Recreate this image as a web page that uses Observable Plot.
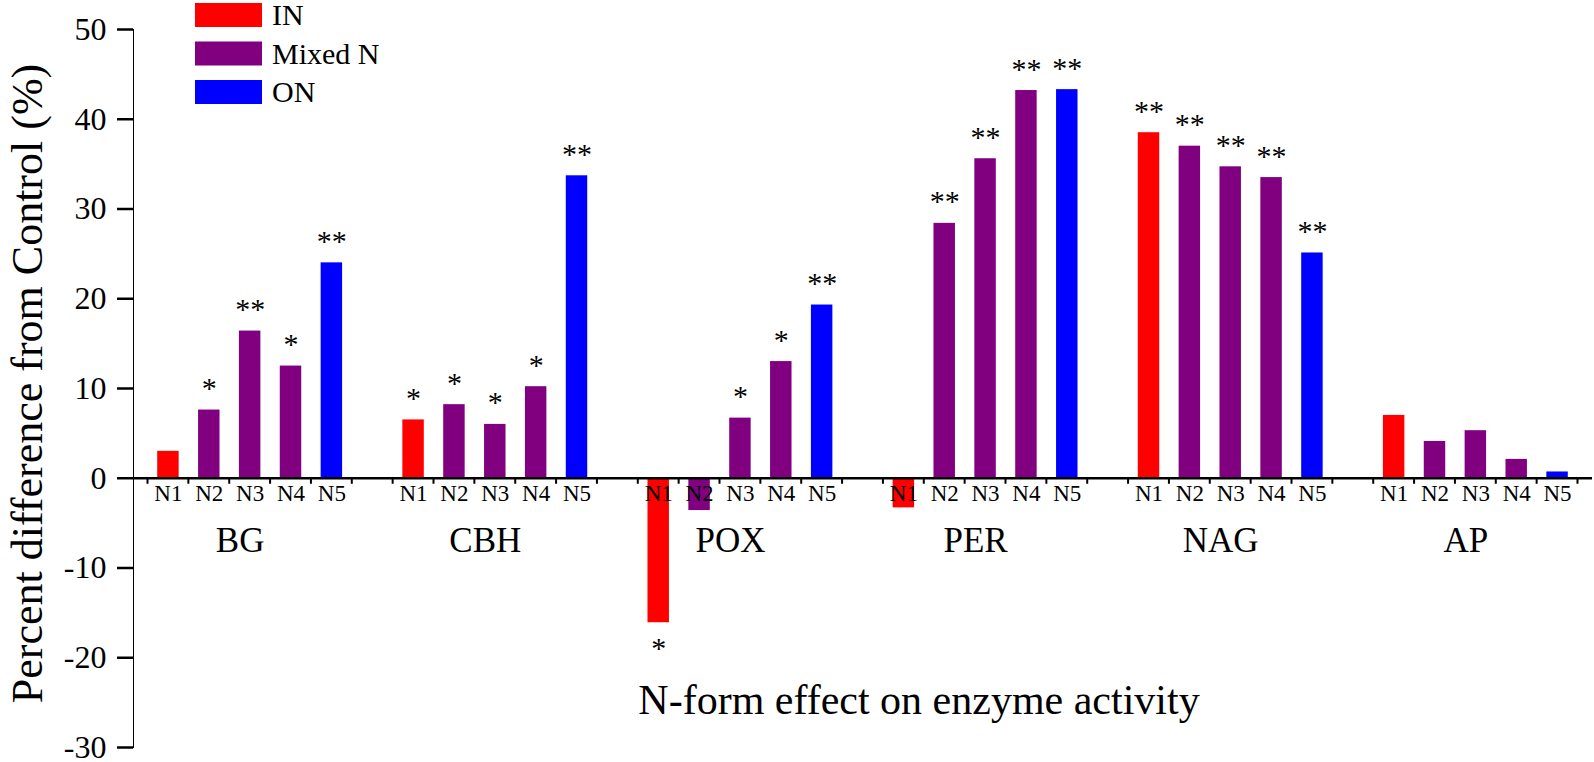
<!DOCTYPE html>
<html>
<head>
<meta charset="utf-8">
<script src="https://cdn.jsdelivr.net/npm/d3@7"></script>
<script src="https://cdn.jsdelivr.net/npm/@observablehq/plot@0.6"></script>
<style>
  html, body { margin: 0; padding: 0; background: #fff; }
  #chart svg { display: block; }
  #chart g[aria-label^="y-axis"] line,
  #chart g[aria-label^="y-axis"] path { stroke-width: 2.5px; }
</style>
</head>
<body>
<div id="chart"></div>
<script>
// ---- data ----
const enzymes = ["BG", "CBH", "POX", "PER", "NAG", "AP"];
const treatments = ["N1", "N2", "N3", "N4", "N5"];
const treatmentForm = ["IN", "Mixed N", "Mixed N", "Mixed N", "ON"];
const legendLabels = ["IN", "Mixed N", "ON"];
const legendColors = ["#ff0000", "#800080", "#0000ff"];
const yTicks = [-30, -20, -10, 0, 10, 20, 30, 40, 50];

const valBG  = [3.0, 7.6, 16.4, 12.5, 24.0];
const valCBH = [6.5, 8.2, 6.0, 10.2, 33.7];
const valPOX = [-16.1, -3.6, 6.7, 13.0, 19.3];
const valPER = [-3.3, 28.4, 35.6, 43.2, 43.3];
const valNAG = [38.5, 37.0, 34.7, 33.5, 25.1];
const valAP  = [7.0, 4.1, 5.3, 2.1, 0.7];

const sigBG  = ["", "*", "**", "*", "**"];
const sigCBH = ["*", "*", "*", "*", "**"];
const sigPOX = ["*", "", "*", "*", "**"];
const sigPER = ["", "**", "**", "**", "**"];
const sigNAG = ["**", "**", "**", "**", "**"];
const sigAP  = ["", "", "", "", ""];

const yTitle = "Percent difference from Control (%)";
const xTitle = "N-form effect on enzyme activity";

// ---- table ----
const allVals = [valBG, valCBH, valPOX, valPER, valNAG, valAP];
const allSig = [sigBG, sigCBH, sigPOX, sigPER, sigNAG, sigAP];
const perGroup = treatments.length + 1; // one empty slot between groups
const nSlots = enzymes.length * perGroup - 1;
const data = enzymes.flatMap((e, g) => treatments.map((t, k) => ({
  enzyme: e, treatment: t, form: treatmentForm[k],
  value: allVals[g][k], sig: allSig[g][k], pos: g * perGroup + k
})));
const groups = enzymes.map((e, g) => ({enzyme: e, pos: g * perGroup + (treatments.length - 1) / 2}));
const slotEdges = d3.range(nSlots + 1).map(i => i - 0.5);
const outerPad = 0.355;

const serif = "'Liberation Serif', 'Times New Roman', serif";

function xTickMark(index, scales) {
  const x = scales.x, y = scales.y;
  const g = d3.create("svg:g").attr("stroke", "black").attr("stroke-width", 2);
  const y0 = y(0);
  for (const t of slotEdges) {
    const px = x(t);
    g.append("line").attr("x1", px).attr("x2", px).attr("y1", y0).attr("y2", y0 + 6);
  }
  return g.node();
}

function legendMark() {
  const g = d3.create("svg:g");
  legendLabels.forEach((lab, i) => {
    const top = 3 + i * 38.5;
    g.append("rect").attr("x", 195).attr("y", top).attr("width", 67).attr("height", 24)
      .attr("fill", legendColors[i]);
    g.append("text").attr("x", 272).attr("y", top + 12).attr("dy", "0.34em")
      .attr("text-anchor", "start")
      .attr("font-size", 30).attr("font-family", serif).attr("fill", "black").text(lab);
  });
  return g.node();
}

const chart = Plot.plot({
  width: 1594,
  height: 762,
  marginTop: 29,
  marginBottom: 15,
  marginLeft: 133,
  marginRight: 2,
  style: {fontFamily: serif, fontSize: "32px", background: "white", color: "black", overflow: "visible"},
  x: {domain: [-0.5 - outerPad, nSlots - 0.5 + outerPad], axis: null},
  y: {domain: [-30, 50], ticks: yTicks, tickSize: 16, tickPadding: 11, line: true, label: null,
      tickFormat: d => String(d)},
  color: {domain: legendLabels, range: legendColors},
  marks: [
    Plot.rectY(data, {x1: d => d.pos - 0.5, x2: d => d.pos + 0.5, y1: 0, y2: "value",
      fill: "form", insetLeft: 9.7, insetRight: 9.7}),
    Plot.ruleY([0], {strokeWidth: 2.5, stroke: "black"}),
    xTickMark,
    Plot.text(data, {x: "pos", y: 0, text: "treatment", dy: 22.5, lineAnchor: "bottom",
      fontSize: 23, fill: "black"}),
    Plot.text(groups, {x: "pos", y: 0, text: "enzyme", dy: 74, dx: -10, lineAnchor: "bottom",
      fontSize: 35, fill: "black"}),
    Plot.text(data.filter(d => d.sig && d.value >= 0), {x: "pos", y: "value", text: "sig",
      dy: -12, lineAnchor: "bottom", fontSize: 30, fill: "black"}),
    Plot.text(data.filter(d => d.sig && d.value < 0), {x: "pos", y: "value", text: "sig",
      dy: 35, lineAnchor: "bottom", fontSize: 30, fill: "black"}),
    Plot.text([xTitle], {frameAnchor: "bottom", text: d => d, dx: 56, dy: -34,
      lineAnchor: "bottom", textAnchor: "middle", fontSize: 42, fill: "black"}),
    Plot.text([yTitle], {frameAnchor: "left", text: d => d, rotate: -90, dx: -92, dy: -5,
      lineAnchor: "bottom", textAnchor: "middle", fontSize: 44, fill: "black"}),
    legendMark
  ]
});
document.getElementById("chart").appendChild(chart);
</script>
</body>
</html>
